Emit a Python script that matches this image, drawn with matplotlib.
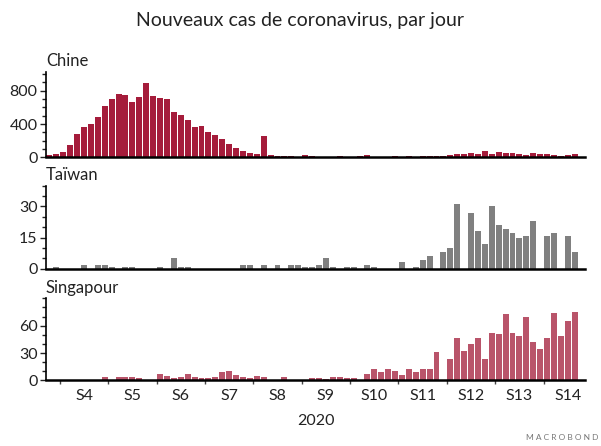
import numpy as np
import matplotlib
matplotlib.use('Agg')
import matplotlib.pyplot as plt
from matplotlib.ticker import MultipleLocator, FixedLocator, NullFormatter, FixedFormatter

plt.rcParams['font.family'] = ['Lato', 'DejaVu Sans']

# daily new cases, first bar is the Saturday before week S4
china = [24, 44, 64, 152, 276, 364, 396, 480, 616, 704,
         756, 748, 664, 720, 888, 732, 708, 696, 544, 504,
         444, 368, 376, 308, 268, 220, 164, 116, 80, 52,
         40, 256, 28, 16, 12, 12, 4, 24, 12, 4,
         2, 8, 16, 2, 2, 16, 28, 2, 2, 2,
         16, 4, 20, 4, 16, 16, 16, 16, 32, 40,
         40, 48, 36, 76, 44, 64, 52, 52, 44, 28,
         52, 36, 36, 28, 16, 28, 40]
taiwan = [0, 1, 0, 0, 0, 2, 0, 2, 2, 1,
          0, 1, 1, 0, 0, 0, 1, 0, 5, 1,
          1, 0, 0, 0, 0, 0, 0, 0, 2, 2,
          0, 2, 0, 2, 0, 2, 2, 1, 1, 2,
          5, 1, 0, 1, 1, 0, 2, 1, 0, 0,
          0, 3, 0, 1, 4, 6, 0, 8, 10, 31,
          0, 27, 18, 12, 30, 21, 19, 17, 15, 16,
          23, 0, 16, 17, 0, 16, 8]
singapore = [0, 0, 0, 0, 0, 0, 0, 0, 4, 0,
             4, 4, 4, 3, 0, 0, 7, 5, 3, 4,
             7, 4, 3, 3, 4, 9, 10, 6, 4, 3,
             5, 4, 1, 1, 4, 0, 1, 1, 3, 3,
             2, 4, 4, 3, 3, 0, 7, 13, 9, 12,
             10, 6, 12, 9, 13, 12, 31, 0, 23, 47,
             32, 40, 47, 23, 52, 51, 73, 52, 49, 70,
             42, 35, 47, 74, 49, 65, 75]

week_labels = ['S4', 'S5', 'S6', 'S7', 'S8', 'S9', 'S10', 'S11', 'S12', 'S13', 'S14']
year_label = '2020'
first_monday = 2  # index of the first Monday (start of S4)

panels = [
    # name, data, color, ylim, labelled ticks, minor step, axes rect
    ('Chine', china, '#a51c3b', 1025, [0, 400, 800], 100, [0.0765, 0.647, 0.897, 0.192]),
    ('Taïwan', taiwan, '#808080', 40, [0, 15, 30], 5, [0.0765, 0.3975, 0.897, 0.186]),
    ('Singapour', singapore, '#b9546a', 90, [0, 30, 60], 10, [0.0765, 0.147, 0.897, 0.184]),
]

fig = plt.figure(figsize=(6.01, 4.46), dpi=100)
fig.text(0.5, 0.953, 'Nouveaux cas de coronavirus, par jour', ha='center', va='center',
         fontsize=14, color='#222222')

n_days = len(china)
week_starts = [first_monday + 7 * i for i in range(len(week_labels))]
week_centers = [w + 3.5 for w in week_starts]

axes = []
for name, values, color, y_top, majors, minor, rect in panels:
    ax = fig.add_axes(rect)
    x = np.arange(len(values))
    ax.bar(x + 0.07, values, width=0.86, align='edge', color=color, linewidth=0)
    ax.set_xlim(0, n_days + 1)
    ax.set_ylim(0, y_top)
    ax.yaxis.set_major_locator(FixedLocator(majors))
    ax.yaxis.set_minor_locator(MultipleLocator(minor))
    ax.tick_params(axis='y', which='major', length=4, width=1, labelsize=11.5,
                   colors='#222222', pad=2)
    ax.tick_params(axis='y', which='minor', length=3, width=1, colors='#222222')
    for side in ['top', 'right']:
        ax.spines[side].set_visible(False)
    ax.spines['left'].set_linewidth(1.2)
    ax.spines['bottom'].set_linewidth(1.8)
    ax.text(0, 1.03, name, transform=ax.transAxes, ha='left', va='bottom',
            fontsize=12, color='#222222')
    ax.set_xticks([])
    axes.append(ax)

bottom = axes[-1]
bottom.xaxis.set_major_locator(FixedLocator(week_starts))
bottom.xaxis.set_major_formatter(NullFormatter())
bottom.xaxis.set_minor_locator(FixedLocator(week_centers))
bottom.xaxis.set_minor_formatter(FixedFormatter(week_labels))
bottom.tick_params(axis='x', which='major', length=3, width=1, colors='#444444')
bottom.tick_params(axis='x', which='minor', length=0, labelsize=11.5, pad=6,
                   labelcolor='#222222')
bottom.text(0.5, -0.49, year_label, transform=bottom.transAxes, ha='center', va='center',
            fontsize=11.5, color='#222222')

fig.text(0.995, 0.02, 'M A C R O B O N D', ha='right', va='center', fontsize=6,
         color='#777777')

plt.savefig('out.png', dpi=100)
